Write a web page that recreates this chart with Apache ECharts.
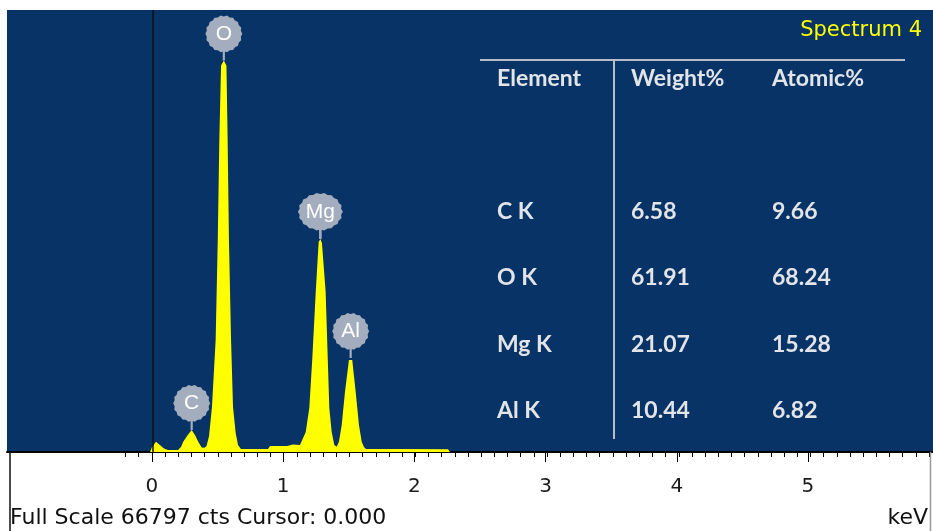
<!DOCTYPE html>
<html>
<head>
<meta charset="utf-8">
<script src="https://cdn.jsdelivr.net/npm/echarts@6/dist/echarts.min.js"></script>
<style>
  html, body { margin: 0; padding: 0; background: #ffffff; }
  #chart { width: 933px; height: 531px; }
</style>
</head>
<body>
<div id="chart"></div>
<script>
// ---------------- data ----------------
const energyKeV = [-1.1, -0.014, 0.001, 0.031, 0.061, 0.092, 0.122, 0.198, 0.221, 0.238, 0.272, 0.302, 0.327, 0.352, 0.378, 0.399,
  0.415, 0.434, 0.456, 0.484, 0.500, 0.512, 0.525, 0.546, 0.566, 0.575, 0.585, 0.601, 0.616, 0.636, 0.654, 0.676,
  0.745, 0.881, 0.897, 1.026, 1.041, 1.071, 1.086, 1.124, 1.168, 1.195, 1.218, 1.244, 1.266, 1.279, 1.291, 1.319,
  1.335, 1.347, 1.365, 1.385, 1.403, 1.420, 1.441, 1.466, 1.496, 1.509, 1.521, 1.547, 1.572, 1.593, 1.610, 1.625,
  1.883, 2.248, 2.263, 2.300, 2.309, 2.318, 2.376, 2.385, 2.394, 2.654, 2.663, 2.672, 5.93];
const counts = [0, 0, 756, 1557, 1058, 529, 302, 302, 756, 1557, 2569, 3325, 2569, 1557, 680, 635,
  907, 2418, 6800, 16925, 32037, 47150, 58400, 59162, 58400, 47150, 32037, 16925, 6800, 2871, 1058, 453,
  453, 453, 907, 907, 1133, 1133, 907, 1058, 3022, 6649, 14205, 24225, 31735, 32188, 31584, 24225,
  14205, 6649, 3022, 1058, 801, 1557, 4080, 9112, 13903, 14205, 13903, 9112, 4080, 1557, 756, 453,
  453, 408, 0, 0, 250, 0, 0, 250, 0, 0, 250, 0, 0];

const peakNames = ['C', 'O', 'Mg', 'Al'];
const peakKeV = [0.302, 0.546, 1.279, 1.509];
const peakCounts = [3325, 59162, 32188, 14205];

const fullScaleCounts = 66797;
const cursorKeV = 0.015;
const xTickLabels = [0, 1, 2, 3, 4, 5];

const spectrumTitle = 'Spectrum 4';
const tableHeader = ['Element', 'Weight%', 'Atomic%'];
const elementNames = ['C K', 'O K', 'Mg K', 'Al K'];
const weightPct = [6.58, 61.91, 21.07, 10.44];
const atomicPct = [9.66, 68.24, 15.28, 6.82];

const footerLeft = 'Full Scale 66797 cts Cursor: 0.000';
const footerRight = 'keV';

// ---------------- layout ----------------
const X_MIN = -1.1, X_MAX = 5.93;
const PLOT_L = 7, PLOT_R = 933, PLOT_T = 10, PLOT_B = 452, W = 933, H = 531;
const pxPerKeV = (PLOT_R - PLOT_L) / (X_MAX - X_MIN);
const minorStart = -0.2;
const gridMinorLeft = PLOT_L + (minorStart - X_MIN) * pxPerKeV;
const gridMajorLeft = PLOT_L + (0 - X_MIN) * pxPerKeV;

function balloonPath() {
  const R = 18.5, r = 17.3, cx = 18.5, cy = 18.5, n = 36;
  let d = '';
  for (let i = 0; i < n; i++) {
    const a = i / n * Math.PI * 2;
    const rr = i % 2 === 0 ? R : r;
    d += (i ? 'L' : 'M') + (cx + rr * Math.cos(a)).toFixed(2) + ' ' + (cy + rr * Math.sin(a)).toFixed(2);
  }
  d += 'Z M17.4 35 L19.6 35 L19.6 45 L17.4 45 Z';
  return 'path://' + d;
}
const BALLOON = balloonPath();

const chart = echarts.init(document.getElementById('chart'), null, { renderer: 'canvas' });

const tableColX = [497, 631, 772];
const headerY = 79;
const rowY0 = 211.5, rowStep = 66.3;
const tableFont = { fontFamily: 'Lato', fontSize: 23, fontWeight: 'bold', fill: '#e2e4e8' };

const graphics = [];
tableHeader.forEach((t, i) => graphics.push({
  type: 'text', x: tableColX[i], y: headerY, z: 10,
  style: Object.assign({ text: t, verticalAlign: 'middle', align: 'left' }, tableFont)
}));
elementNames.forEach((el, r) => {
  const y = rowY0 + r * rowStep;
  [el, weightPct[r].toFixed(2), atomicPct[r].toFixed(2)].forEach((t, i) => graphics.push({
    type: 'text', x: tableColX[i], y: y, z: 10,
    style: Object.assign({ text: t, verticalAlign: 'middle', align: 'left' }, tableFont)
  }));
});
graphics.push(
  { type: 'line', z: 10, shape: { x1: 480, y1: 60, x2: 905, y2: 60 }, style: { stroke: '#b8bcc4', lineWidth: 2 } },
  { type: 'line', z: 10, shape: { x1: 614, y1: 60, x2: 614, y2: 439 }, style: { stroke: '#b8bcc4', lineWidth: 2 } },
  { type: 'text', z: 10, x: 922, y: 31, style: { text: spectrumTitle, fill: '#ffff00', fontFamily: 'DejaVu Sans', fontSize: 21, align: 'right', verticalAlign: 'middle' } },
  { type: 'text', z: 10, x: 10, y: 518, style: { text: footerLeft, fill: '#111111', fontFamily: 'DejaVu Sans', fontSize: 22, align: 'left', verticalAlign: 'middle' } },
  { type: 'text', z: 10, x: 928, y: 518, style: { text: footerRight, fill: '#111111', fontFamily: 'DejaVu Sans', fontSize: 22, align: 'right', verticalAlign: 'middle' } },
  { type: 'line', z: 10, shape: { x1: 10, y1: 452, x2: 10, y2: 531 }, style: { stroke: '#111111', lineWidth: 1.5 } },
  { type: 'line', z: 10, shape: { x1: 930.5, y1: 452, x2: 930.5, y2: 531 }, style: { stroke: '#9a9a9a', lineWidth: 1.5 } }
);

const hiddenY = (gi) => ({ type: 'value', gridIndex: gi, min: 0, max: fullScaleCounts, show: false, splitLine: { show: false } });

const option = {
  animation: false,
  backgroundColor: '#ffffff',
  grid: [
    { left: PLOT_L, right: W - PLOT_R, top: PLOT_T, bottom: H - PLOT_B, show: true, backgroundColor: '#073366', borderWidth: 0 },
    { left: gridMinorLeft, right: W - PLOT_R, top: PLOT_T, bottom: H - PLOT_B },
    { left: gridMajorLeft, right: W - PLOT_R, top: PLOT_T, bottom: H - PLOT_B }
  ],
  xAxis: [
    { type: 'value', gridIndex: 0, min: X_MIN, max: X_MAX, splitLine: { show: false },
      axisLine: { show: true, onZero: false, lineStyle: { color: '#000000', width: 2 } },
      axisTick: { show: false }, axisLabel: { show: false } },
    { type: 'value', gridIndex: 1, min: minorStart, max: X_MAX, interval: 0.1, splitLine: { show: false },
      axisLine: { show: false }, axisLabel: { show: false },
      axisTick: { show: true, length: 5, lineStyle: { color: '#000000', width: 1 } } },
    { type: 'value', gridIndex: 2, min: 0, max: X_MAX, interval: 1, splitLine: { show: false },
      axisLine: { show: false },
      axisTick: { show: true, length: 10, lineStyle: { color: '#000000', width: 1 } },
      axisLabel: { show: true, margin: 25, color: '#1a1a1a', fontFamily: 'DejaVu Sans', fontSize: 20,
        formatter: (v) => (Math.abs(v - Math.round(v)) < 1e-6 && xTickLabels.indexOf(Math.round(v)) >= 0) ? String(Math.round(v)) : '' } }
  ],
  yAxis: [hiddenY(0), hiddenY(1), hiddenY(2)],
  series: [{
    type: 'line',
    xAxisIndex: 0, yAxisIndex: 0,
    data: energyKeV.map((e, i) => [e, counts[i]]),
    showSymbol: false,
    lineStyle: { width: 0, color: '#ffff00' },
    areaStyle: { color: '#ffff00', opacity: 1 },
    itemStyle: { color: '#ffff00' },
    z: 3,
    markLine: {
      silent: true, symbol: 'none', animation: false,
      label: { show: false },
      lineStyle: { color: '#111111', width: 1.5, type: 'solid' },
      data: [{ xAxis: cursorKeV }]
    },
    markPoint: {
      silent: true, animation: false,
      symbol: BALLOON,
      itemStyle: { color: '#a3adbe' },
      label: { show: true, position: 'inside', formatter: '{b}', color: '#ffffff', fontFamily: 'Liberation Sans', fontSize: 21, offset: [0, -4] },
      data: peakNames.map((n, i) => ({
        name: n, coord: [peakKeV[i], peakCounts[i]],
        symbolSize: n === 'Mg' ? [45, 46] : [37, 45],
        symbolOffset: [0, n === 'Mg' ? -23 : -22.5]
      }))
    }
  }],
  graphic: graphics
};
chart.setOption(option);
</script>
</body>
</html>
